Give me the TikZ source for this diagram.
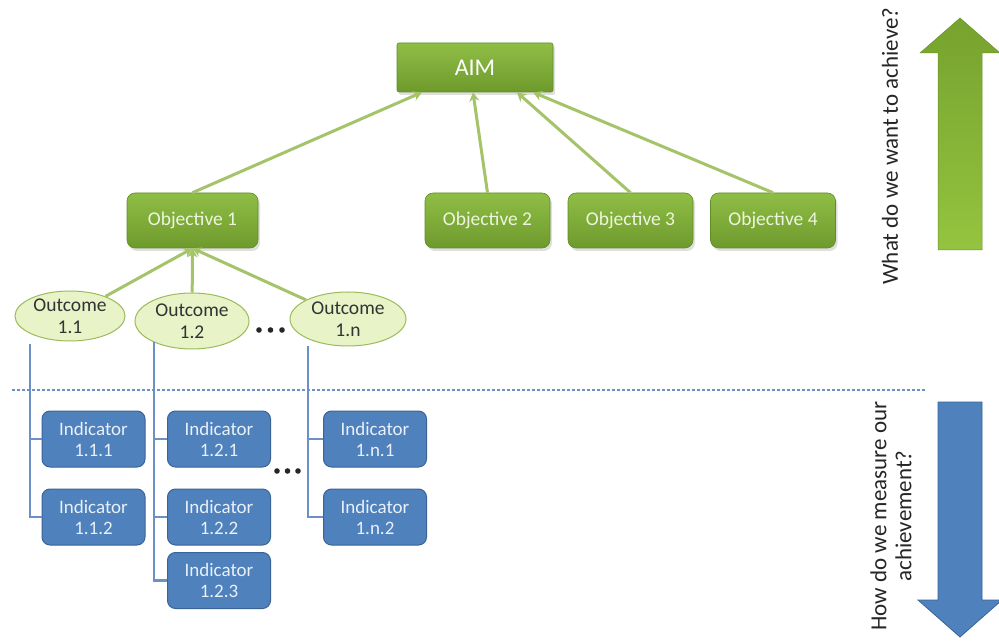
\documentclass[tikz,border=0pt]{standalone}
\usepackage{fontspec}
\setmainfont{Carlito}
\usetikzlibrary{shapes.geometric,arrows.meta,shadows,calc}
\definecolor{gdark}{HTML}{6E9A2C}
\definecolor{glight}{HTML}{8FBE46}
\definecolor{gline}{HTML}{A5C46A}
\definecolor{gtext}{HTML}{EEF4E0}
\definecolor{ofill}{HTML}{E9F3C8}
\definecolor{oborder}{HTML}{9BBB59}
\definecolor{bfill}{HTML}{4F81BD}
\definecolor{bborder}{HTML}{3B6496}
\definecolor{btext}{HTML}{EAF0F8}
\definecolor{bline}{HTML}{6A90C6}
\definecolor{bigg1}{HTML}{76A22E}
\definecolor{bigg2}{HTML}{94C43F}
\tikzset{
 greenbox/.style={rectangle, rounded corners=8pt, top color=glight, bottom color=gdark, draw=gdark!90!black, line width=0.6pt, text=gtext, font=\fontsize{19.5}{22}\selectfont, drop shadow={opacity=0.25,shadow xshift=2pt,shadow yshift=-3pt}, inner sep=0pt},
 aimbox/.style={greenbox, rounded corners=2pt, minimum width=156pt, minimum height=49pt, text=white, font=\fontsize{24}{26}\selectfont},
 objbox/.style={greenbox, minimum width=125pt, minimum height=55pt},
 outcome/.style={ellipse, fill=ofill, draw=oborder, line width=1pt, inner sep=0pt, align=center, font=\fontsize{19.5}{22}\selectfont, text=black!80},
 indbox/.style={rectangle, rounded corners=8pt, fill=bfill, draw=bborder, line width=1pt, minimum width=103pt, minimum height=56pt, inner sep=0pt, align=center, text=btext, font=\fontsize{19}{21}\selectfont},
 garrow/.style={draw=gline, line width=3pt, -{Stealth[length=9pt,width=10pt]}},
 bconn/.style={draw=bline, line width=2.5pt},
 sidetext/.style={rotate=90, align=center, font=\fontsize{23}{25}\selectfont, text=black!85},
 dotmark/.style={fill=black!85},
}
\begin{document}
\begin{tikzpicture}[x=1pt,y=-1pt]
\fill[white] (0,0) rectangle (999,644);
\useasboundingbox (0,0) rectangle (999,644);

% top level
\node[aimbox] (aim) at (475,67.5) {AIM};
\node[objbox, minimum width=131pt] (obj1) at (192.5,220.5) {Objective 1};
\node[objbox] (obj2) at (487.5,220.5) {Objective 2};
\node[objbox] (obj3) at (630.5,220.5) {Objective 3};
\node[objbox] (obj4) at (773,220.5) {Objective 4};

\coordinate (t1) at ([xshift=-53pt]aim.south);
\coordinate (t2) at ([xshift=-2pt]aim.south);
\coordinate (t3) at ([xshift=42pt]aim.south);
\coordinate (t4) at ([xshift=58pt]aim.south);
\draw[garrow] (obj1.north) -- (t1);
\draw[garrow] (obj2.north) -- (t2);
\draw[garrow] (obj3.north) -- (t3);
\draw[garrow] (obj4.north) -- (t4);

% outcomes
\node[outcome, minimum width=110pt, minimum height=50pt] (oc1) at (70,316) {Outcome\\1.1};
\node[outcome, minimum width=114pt, minimum height=56pt] (oc2) at (192,321) {Outcome\\1.2};
\node[outcome, minimum width=116pt, minimum height=54pt] (ocn) at (348,319) {Outcome\\1.n};
\draw[garrow] (oc1) -- (obj1.south);
\draw[garrow] (oc2) -- (obj1.south);
\draw[garrow] (ocn) -- (obj1.south);

\fill[dotmark] (259,330) circle (2.8pt) (270.5,330) circle (2.8pt) (282,330) circle (2.8pt);

% dotted separator
\coordinate (dl) at (12,390);
\coordinate (dr) at (925,390);
\draw[draw=bline, line width=2.5pt, dash pattern=on 2.5pt off 2.5pt] (dl) -- (dr);

% indicators
\node[indbox] (i111) at (93.5,439) {Indicator\\1.1.1};
\node[indbox] (i112) at (93.5,517) {Indicator\\1.1.2};
\node[indbox] (i121) at (219,439) {Indicator\\1.2.1};
\node[indbox] (i122) at (219,517) {Indicator\\1.2.2};
\node[indbox] (i123) at (219,580.5) {Indicator\\1.2.3};
\node[indbox] (in1) at (375,439) {Indicator\\1.n.1};
\node[indbox] (in2) at (375,517) {Indicator\\1.n.2};

\coordinate (v1) at (30,344);
\coordinate (v2) at (154,342);
\coordinate (v3) at (308,346);
\draw[bconn] (v1) |- (i112.west);
\draw[bconn] (v1 |- i111.west) -- (i111.west);
\draw[bconn] (v2) |- (i123.west);
\draw[bconn] (v2 |- i121.west) -- (i121.west);
\draw[bconn] (v2 |- i122.west) -- (i122.west);
\draw[bconn] (v3) |- (in2.west);
\draw[bconn] (v3 |- in1.west) -- (in1.west);

\fill[dotmark] (277,471) circle (2.8pt) (287.5,471) circle (2.8pt) (298,471) circle (2.8pt);

% side arrows
\path[top color=bigg1, bottom color=bigg2, draw=bigg1!90!black, line width=0.5pt]
  (938,250) -- (938,53) -- (920,53) -- (960,18) -- (1000,53) -- (982,53) -- (982,250) -- cycle;
\path[fill=bfill, draw=bborder, line width=0.8pt]
  (938,402) -- (982,402) -- (982,600) -- (1002,600) -- (960,637) -- (918,600) -- (938,600) -- cycle;

\node[sidetext] (q1) at (890,146) {What do we want to achieve?};
\node[sidetext] (q2) at (891,516) {How do we measure our\\achievement?};
\end{tikzpicture}
\end{document}
